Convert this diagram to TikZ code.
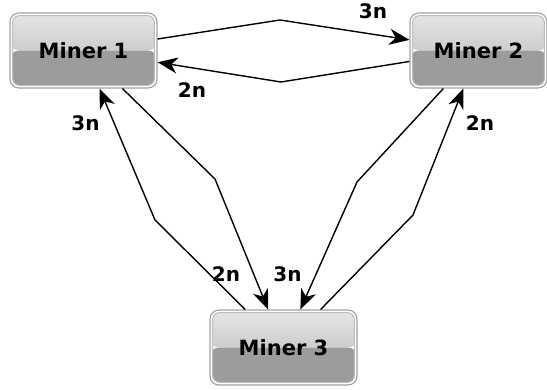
\documentclass[tikz,border=0pt]{standalone}
\usepackage{fontspec}
\setmainfont{DejaVu Sans}
\usetikzlibrary{arrows.meta}
\definecolor{boxedge}{HTML}{A0A0A0}
\definecolor{boxinner}{HTML}{BCBCBC}
\definecolor{boxtopA}{HTML}{E6E6E6}
\definecolor{boxtopB}{HTML}{CDCDCD}
\definecolor{boxbot}{HTML}{9C9C9C}
\tikzset{
  minerbox/.style={rectangle, minimum width=147pt, minimum height=75pt,
    rounded corners=9pt, draw=boxedge, line width=1.1pt, fill=white,
    inner sep=0pt,
    font=\fontsize{21}{25}\selectfont\bfseries,
    path picture={
      \begin{scope}
        \clip[rounded corners=7pt]
          ([shift={(2.6pt,2.6pt)}]path picture bounding box.south west)
          rectangle ([shift={(-2.6pt,-2.6pt)}]path picture bounding box.north east);
        \fill[boxbot] (path picture bounding box.south west)
          rectangle (path picture bounding box.east);
        \shade[top color=boxtopA, bottom color=boxtopB]
          (path picture bounding box.west)
          rectangle (path picture bounding box.north east);
      \end{scope}
      \draw[boxinner, line width=1pt, rounded corners=7pt]
          ([shift={(2.6pt,2.6pt)}]path picture bounding box.south west)
          rectangle ([shift={(-2.6pt,-2.6pt)}]path picture bounding box.north east);
    }},
  flow/.style={line width=1.4pt, draw=black,
    -{Stealth[length=20pt, width=16pt, inset=6pt]}},
  lbl/.style={font=\fontsize{20}{24}\selectfont\bfseries, inner sep=0pt}
}
\begin{document}
\begin{tikzpicture}[x=1pt, y=1pt]
  \useasboundingbox (0,0) rectangle (547,390);
  \node[minerbox] (m1) at (83.5,339.5) {Miner 1};
  \node[minerbox, minimum width=137pt] (m2) at (478.5,339.5) {Miner 2};
  \node[minerbox] (m3) at (283.5,42.5) {Miner 3};

  \coordinate (c12) at (280,370);
  \coordinate (c21) at (281,308);
  \coordinate (c13) at (215,211);
  \coordinate (c31) at (155,170);
  \coordinate (c23) at (357,208);
  \coordinate (c32) at (413,175);

  \draw[flow] (m1) -- (c12) -- (m2);
  \draw[flow] (m2) -- (c21) -- (m1);
  \draw[flow] (m1) -- (c13) -- (m3);
  \draw[flow] (m3) -- (c31) -- (m1);
  \draw[flow] (m2) -- (c23) -- (m3);
  \draw[flow] (m3) -- (c32) -- (m2);

  \node[lbl] (l12) at (373,379) {3n};
  \node[lbl] (l21) at (192,299.5) {2n};
  \node[lbl] (l31) at (85.5,266.5) {3n};
  \node[lbl] (l13) at (226,115.5) {2n};
  \node[lbl] (l23) at (287.5,115.5) {3n};
  \node[lbl] (l32) at (480,266.5) {2n};
\end{tikzpicture}
\end{document}
